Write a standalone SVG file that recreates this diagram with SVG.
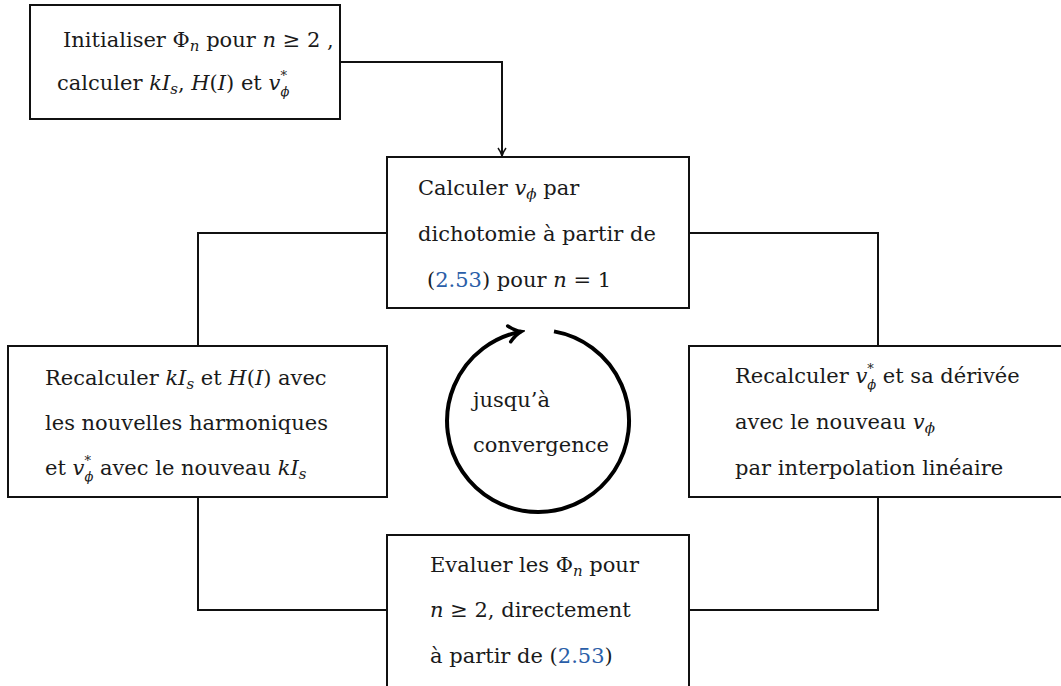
<svg xmlns="http://www.w3.org/2000/svg" width="1061" height="686" viewBox="0 0 1061 686" font-family="'DejaVu Serif', 'Liberation Serif', serif">
<style>
.box{fill:#fff;stroke:#111;stroke-width:2}
.conn{fill:none;stroke:#111;stroke-width:2}
text{font-family:'DejaVu Serif','Liberation Serif',serif;font-size:21px;fill:#1a1a1a}
.i{font-style:italic}
.s{font-size:15px}
.t{font-size:13px}
.ref{fill:#2a5ea8}
</style>
<defs>
<marker id="arr" viewBox="0 0 10 10" refX="9" refY="5" markerWidth="10" markerHeight="10" markerUnits="userSpaceOnUse" orient="auto">
<path d="M1,1 Q5,4 9,5 Q5,6 1,9" fill="none" stroke="#111" stroke-width="1.5"/>
</marker>
<marker id="arrc" viewBox="0 0 20 20" refX="16" refY="10" markerWidth="20" markerHeight="20" markerUnits="userSpaceOnUse" orient="auto">
<path d="M4,2 Q10,8 16,10 Q10,12 4,18" fill="none" stroke="#000" stroke-width="3.5" stroke-linecap="round"/>
</marker>
</defs>
<g id="connectors">
<path class="conn" d="M340,62 H502 V156" marker-end="url(#arr)"/>
<path class="conn" d="M387,233 H198 V346"/>
<path class="conn" d="M689,233 H878 V346"/>
<path class="conn" d="M198,497 V610 H387"/>
<path class="conn" d="M878,497 V610 H689"/>
</g>
<g id="init">
<rect class="box" x="30" y="5" width="310" height="114"/>
<text x="63" y="47">Initialiser Φ<tspan class="s i" dy="4">n</tspan><tspan dy="-4"> pour </tspan><tspan class="i">n</tspan> ≥ 2 ,</text>
<text x="57" y="90">calculer <tspan class="i">kI</tspan><tspan class="s i" dy="4">s</tspan><tspan dy="-4">, </tspan><tspan class="i">H</tspan>(<tspan class="i">I</tspan>) et <tspan class="i">v</tspan><tspan class="t" dy="-10">*</tspan><tspan class="t i" dx="-6.5" dy="16">ϕ</tspan></text>
</g>
<g id="dicho">
<rect class="box" x="387" y="157" width="302" height="151"/>
<text x="418" y="195">Calculer <tspan class="i">v</tspan><tspan class="s i" dy="4">ϕ</tspan><tspan dy="-4"> par</tspan></text>
<text x="418" y="241">dichotomie à partir de</text>
<text x="427" y="287">(<tspan class="ref">2.53</tspan>) pour <tspan class="i">n</tspan> = 1</text>
</g>
<g id="recalc-left">
<rect class="box" x="8" y="346" width="379" height="151"/>
<text x="45" y="385">Recalculer <tspan class="i">kI</tspan><tspan class="s i" dy="4">s</tspan><tspan dy="-4"> et </tspan><tspan class="i">H</tspan>(<tspan class="i">I</tspan>) avec</text>
<text x="45" y="430">les nouvelles harmoniques</text>
<text x="45" y="475">et <tspan class="i">v</tspan><tspan class="t" dy="-10">*</tspan><tspan class="t i" dx="-6.5" dy="16">ϕ</tspan><tspan dy="-6"> avec le nouveau </tspan><tspan class="i">kI</tspan><tspan class="s i" dy="4">s</tspan></text>
</g>
<g id="recalc-right">
<rect class="box" x="689" y="346" width="385" height="151"/>
<text x="735" y="383">Recalculer <tspan class="i">v</tspan><tspan class="t" dy="-10">*</tspan><tspan class="t i" dx="-6.5" dy="16">ϕ</tspan><tspan dy="-6"> et sa dérivée</tspan></text>
<text x="735" y="429">avec le nouveau <tspan class="i">v</tspan><tspan class="s i" dy="4">ϕ</tspan></text>
<text x="735" y="475">par interpolation linéaire</text>
</g>
<g id="evaluer">
<rect class="box" x="387" y="535" width="302" height="160"/>
<text x="430" y="572">Evaluer les Φ<tspan class="s i" dy="4">n</tspan><tspan dy="-4"> pour</tspan></text>
<text x="430" y="617"><tspan class="i">n</tspan> ≥ 2, directement</text>
<text x="430" y="663">à partir de (<tspan class="ref">2.53</tspan>)</text>
</g>
<g id="loop">
<path d="M554,331.4 A91,91 0 1 1 521,331.6" fill="none" stroke="#000" stroke-width="4" marker-end="url(#arrc)"/>
<text x="473" y="407">jusqu’à</text>
<text x="473" y="452">convergence</text>
</g>
</svg>
